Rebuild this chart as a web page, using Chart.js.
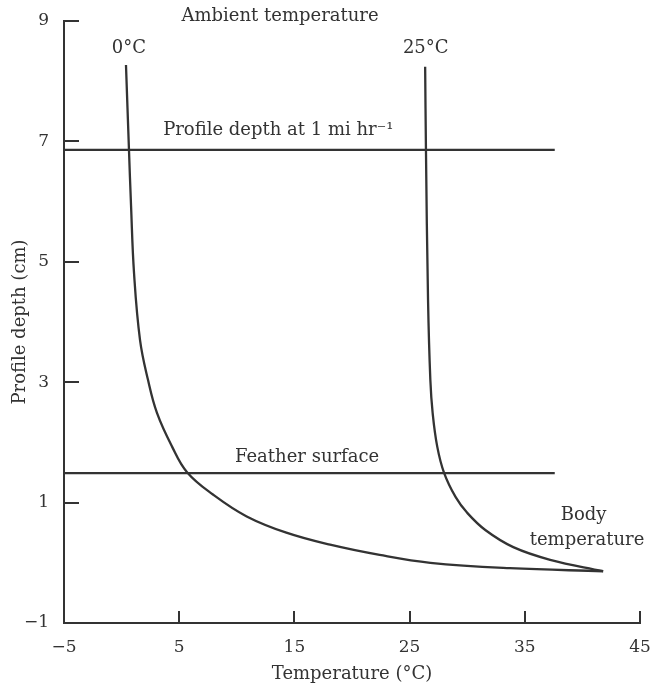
<!DOCTYPE html>
<html>
<head>
<meta charset="utf-8">
<script src="https://cdn.jsdelivr.net/npm/chart.js@4"></script>
<style>
body { margin: 0; background: #fff; }
</style>
</head>
<body>
<canvas id="grafico" width="651" height="685"></canvas>
<script>
// ambient 0°C profile
const coldX = [0.38, 0.64, 0.82, 1.08, 1.6, 2.29, 3.07, 4.38, 5.7, 7.96, 10.86, 14.3, 18.1, 22.4, 26.8, 33.7, 41.8];
const coldY = [8.27, 6.86, 5.93, 4.81, 3.70, 3.04, 2.49, 1.93, 1.50, 1.13, 0.77, 0.50, 0.30, 0.13, 0.0, -0.09, -0.14];
// ambient 25°C profile
const warmX = [26.35, 26.42, 26.6, 26.8, 27.0, 27.4, 28.0, 29.0, 30.0, 31.6, 34.0, 37.2, 41.8];
const warmY = [8.24, 6.86, 4.37, 3.04, 2.49, 1.93, 1.49, 1.09, 0.83, 0.54, 0.26, 0.05, -0.14];
// horizontal reference lines
const lineX = [-5, 37.6];
const profileY = [6.86, 6.86];
const featherY = [1.49, 1.49];

const xTicks = [-5, 5, 15, 25, 35, 45];
const yTicks = [-1, 1, 3, 5, 7, 9];

// text labels, in data units
const notes = [
    { text: "Ambient temperature", x: 13.75, y: 9.07 },
    { text: "0°C", x: 0.64, y: 8.55 },
    { text: "25°C", x: 26.4, y: 8.55 },
    { text: "Profile depth at 1 mi hr⁻¹", x: 13.6, y: 7.19 },
    { text: "Feather surface", x: 16.1, y: 1.76 },
    { text: "Body", x: 40.1, y: 0.79 },
    { text: "temperature", x: 40.4, y: 0.38 }
];

const ink = "#333333";
const serif = "'DejaVu Serif', serif";

const toPoints = (xs, ys) => xs.map((x, i) => ({ x: x, y: ys[i] }));
const minus = (v) => v < 0 ? "\u2212" + Math.abs(v) : String(v);

const lineSet = (data, tension) => ({
    data: data,
    showLine: true,
    borderColor: ink,
    borderWidth: 2.3,
    pointRadius: 0,
    tension: tension,
    fill: false
});

const extras = {
    id: "extras",
    afterDraw(chart) {
        const ctx = chart.ctx;
        const xs = chart.scales.x;
        const ys = chart.scales.y;
        const area = chart.chartArea;
        ctx.save();
        ctx.strokeStyle = ink;
        ctx.lineWidth = 2;
        // inward tick marks
        xTicks.slice(1).forEach((v) => {
            const px = Math.round(xs.getPixelForValue(v));
            ctx.beginPath();
            ctx.moveTo(px, area.bottom);
            ctx.lineTo(px, area.bottom - 12);
            ctx.stroke();
        });
        yTicks.slice(1).forEach((v) => {
            const py = Math.round(ys.getPixelForValue(v));
            ctx.beginPath();
            ctx.moveTo(area.left, py);
            ctx.lineTo(area.left + 15, py);
            ctx.stroke();
        });
        ctx.fillStyle = ink;
        ctx.font = "18px " + serif;
        ctx.textAlign = "center";
        ctx.textBaseline = "middle";
        notes.forEach((n) => {
            ctx.fillText(n.text, xs.getPixelForValue(n.x), ys.getPixelForValue(n.y));
        });
        ctx.restore();
    }
};

const canvas = document.querySelector("#grafico");
const myChart = new Chart(canvas, {
    type: "scatter",
    data: {
        datasets: [
            lineSet(toPoints(coldX, coldY), 0.4),
            lineSet(toPoints(warmX, warmY), 0.4),
            lineSet(toPoints(lineX, profileY), 0),
            lineSet(toPoints(lineX, featherY), 0)
        ]
    },
    options: {
        responsive: false,
        animation: false,
        layout: { padding: { top: 21, right: 11, left: 0, bottom: 0 } },
        plugins: { legend: { display: false }, tooltip: { enabled: false } },
        scales: {
            x: {
                type: "linear",
                min: -5,
                max: 45,
                afterBuildTicks: (scale) => { scale.ticks = xTicks.map((v) => ({ value: v })); },
                afterFit: (scale) => {
                    scale.height = 62;
                    scale.paddingRight = 0;
                },
                grid: { display: false },
                border: { display: true, color: ink, width: 2 },
                ticks: {
                    color: ink,
                    padding: 6,
                    font: { family: serif, size: 17 },
                    callback: (v) => minus(v)
                },
                title: {
                    display: true,
                    text: "Temperature (°C)",
                    color: ink,
                    font: { family: serif, size: 18 },
                    padding: { top: 2, bottom: 0 }
                }
            },
            y: {
                type: "linear",
                min: -1,
                max: 9,
                afterBuildTicks: (scale) => { scale.ticks = yTicks.map((v) => ({ value: v })); },
                afterFit: (scale) => { scale.width = 64; },
                grid: { display: false },
                border: { display: true, color: ink, width: 2 },
                ticks: {
                    color: ink,
                    padding: 7,
                    font: { family: serif, size: 17 },
                    callback: (v) => minus(v)
                },
                title: {
                    display: true,
                    text: "Profile depth (cm)",
                    color: ink,
                    font: { family: serif, size: 18 },
                    padding: { top: 10, bottom: 0 }
                }
            }
        }
    },
    plugins: [extras]
});
</script>
</body>
</html>
